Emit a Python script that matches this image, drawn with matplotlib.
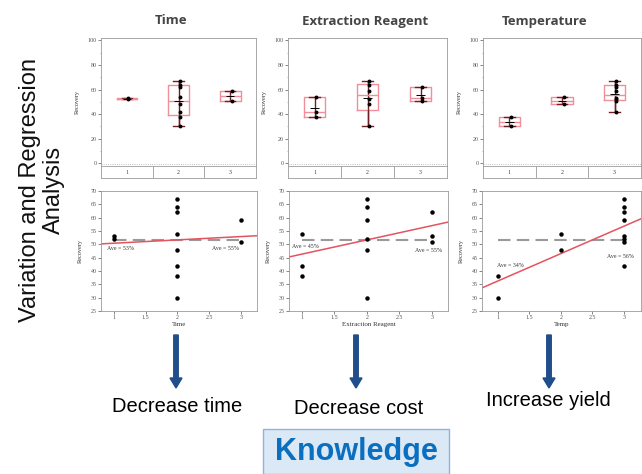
# Variation and regression summary: recovery vs. time, extraction reagent and temperature.

import numpy as np
import matplotlib.pyplot as plt
from matplotlib.patches import FancyArrow, Rectangle
from matplotlib.ticker import MultipleLocator

levels = [1, 2, 3]
time_groups = [[53, 52], [67, 64, 62, 54, 48, 42, 38, 30], [59, 51]]
reagent_groups = [[54, 42, 38], [67, 64, 59, 52, 48, 30], [62, 53, 51]]
temp_groups = [[38, 30], [54, 48], [67, 64, 62, 59, 53, 52, 51, 42]]

factor_titles = ["Time", "Extraction Reagent", "Temperature"]
x_labels = ["Time", "Extraction Reagent", "Temp"]
avg_left = ["Ave = 53%", "Ave = 45%", "Ave = 34%"]
avg_right = ["Ave = 55%", "Ave = 55%", "Ave = 56%"]
outcomes = ["Decrease time", "Decrease cost", "Increase yield"]

W, H = 642, 474
fig = plt.figure(figsize=(W / 100, H / 100), dpi=100)


def px_axes(x0, y0, x1, y1):
    return fig.add_axes([x0 / W, 1 - y1 / H, (x1 - x0) / W, (y1 - y0) / H])


serif = "Liberation Serif"
spine_c = "#9a9a9a"
pink = "#f08f99"
dark_red = "#6e1f25"
reg_red = "#e3545f"


def style(ax):
    for s in ax.spines.values():
        s.set_color(spine_c)
        s.set_linewidth(0.6)
    ax.tick_params(length=2, width=0.5, labelsize=4.3, colors="#555555", pad=1)
    for lab in ax.get_xticklabels() + ax.get_yticklabels():
        lab.set_family(serif)


top_x = [(101, 256), (288, 447), (483, 641)]
bot_x = [(101, 257), (289, 448), (482, 641)]
title_x = [171, 365, 545]
all_groups = [time_groups, reagent_groups, temp_groups]

for i, groups in enumerate(all_groups):
    # --- top: box plots by level ---
    x0, x1 = top_x[i]
    ax = px_axes(x0, 38, x1, 166)
    stats = []
    for g in groups:
        q1, med, q3 = np.percentile(g, [25, 50, 75], method="weibull")
        stats.append(dict(med=med, q1=q1, q3=q3, whislo=min(g), whishi=max(g)))
    ax.vlines(levels, [min(g) for g in groups], [max(g) for g in groups],
              color=dark_red, lw=1.0, zorder=2)
    ax.bxp(stats, positions=levels, widths=0.4, showfliers=False,
           boxprops=dict(color=pink, lw=1.0), medianprops=dict(color=pink, lw=1.0),
           whiskerprops=dict(color=dark_red, lw=1.0), capprops=dict(color=dark_red, lw=1.0))
    ax.hlines([np.mean(g) for g in groups], np.array(levels) - 0.08,
              np.array(levels) + 0.08, color="black", lw=0.7, zorder=4)
    for lv, g in zip(levels, groups):
        ax.plot([lv + 0.03] * len(g), g, "o", color="black", ms=1.8, zorder=5)
    ax.axhline(-0.8, color="#aaaaaa", lw=0.6, ls=":")
    ax.set_xlim(0.5, 3.5)
    ax.set_ylim(-2.2, 102)
    ax.set_yticks([0, 20, 40, 60, 80, 100])
    ax.yaxis.set_minor_locator(MultipleLocator(10))
    ax.tick_params(which="minor", length=1, width=0.4, colors="#777777")
    ax.set_xticks([])
    ax.set_ylabel("Recovery", fontsize=4.5, family=serif, color="#333333", labelpad=6)
    style(ax)

    strip = px_axes(x0, 166, x1, 178)
    strip.set_xlim(0.5, 3.5)
    strip.set_ylim(0, 1)
    strip.set_xticks([])
    strip.set_yticks([])
    strip.vlines([1.5, 2.5], 0, 1, color=spine_c, lw=0.6)
    for lv in levels:
        strip.text(lv, 0.5, str(lv), ha="center", va="center", fontsize=4.3,
                   family=serif, color="#444444")
    style(strip)

    fig.text(title_x[i] / W, 1 - 21 / H, factor_titles[i], ha="center", va="center",
             fontsize=9.5, fontweight="bold", family="Open Sans", color="#454545")

    # --- bottom: regression of recovery on level ---
    x0, x1 = bot_x[i]
    ax = px_axes(x0, 191, x1, 311)
    xs = np.concatenate([[lv] * len(g) for lv, g in zip(levels, groups)])
    ys = np.concatenate(groups)
    xlim = (0.8, 3.25) if i < 2 else (0.75, 3.27)
    slope, icpt = np.polyfit(xs, ys, 1)
    xx = np.array(xlim)
    ax.plot(xx, icpt + slope * xx, color=reg_red, lw=1.1, zorder=2)
    ax.plot([1, 3], [ys.mean()] * 2, color="#9a9a9a", lw=1.5, ls=(0, (6, 3)), zorder=1)
    ax.plot(xs, ys, "o", color="black", ms=2.2, zorder=3)
    lpos = [(1.1, 48.3), (1.05, 49.1), (1.2, 41.9)][i]
    rpos = [(2.75, 48.3), (2.95, 47.5), (2.95, 45.6)][i]
    ax.text(lpos[0], lpos[1], avg_left[i], fontsize=4.2, family=serif, ha="center",
            va="center", color="#333333")
    ax.text(rpos[0], rpos[1], avg_right[i], fontsize=4.2, family=serif, ha="center",
            va="center", color="#333333")
    ax.set_xlim(*xlim)
    ax.set_ylim(25, 70)
    ax.set_xticks([1, 1.5, 2, 2.5, 3])
    ax.set_xticklabels(["1", "1.5", "2", "2.5", "3"])
    ax.set_yticks(range(25, 71, 5))
    ax.set_xlabel(x_labels[i], fontsize=5, family=serif, color="#333333", labelpad=1)
    ax.set_ylabel("Recovery", fontsize=4.5, family=serif, color="#333333", labelpad=6)
    style(ax)

fig.text(42 / W, 1 - 190 / H, "Variation and Regression\nAnalysis", rotation=90,
         ha="center", va="center", fontsize=17, family="Liberation Sans",
         linespacing=1.1, color="#111111")

# arrows and outcomes
arrow_x = [176, 356, 549]
text_pos = [(177.5, 406), (359, 408), (548, 401)]
for ax_px, (tx, ty), label in zip(arrow_x, text_pos, outcomes):
    fig.patches.append(FancyArrow(ax_px / W, 1 - 335 / H, 0, -53 / H, width=4.5 / W,
                                  head_width=12 / W, head_length=10 / H,
                                  length_includes_head=True, color="#1f4e8a",
                                  transform=fig.transFigure))
    fig.text(tx / W, 1 - ty / H, label, ha="center", va="center", fontsize=14.5,
             family="Liberation Sans", color="black")

fig.patches.append(Rectangle((263 / W, 0), 186 / W, 45 / H, transform=fig.transFigure,
                             facecolor="#dbe8f6", edgecolor="#8fb3de", lw=1.0))
fig.text(356 / W, 1 - 452 / H, "Knowledge", ha="center", va="center", fontsize=22,
         fontweight="bold", family="Liberation Sans", color="#0b6fc0")

fig.savefig("out.png", dpi=100)
